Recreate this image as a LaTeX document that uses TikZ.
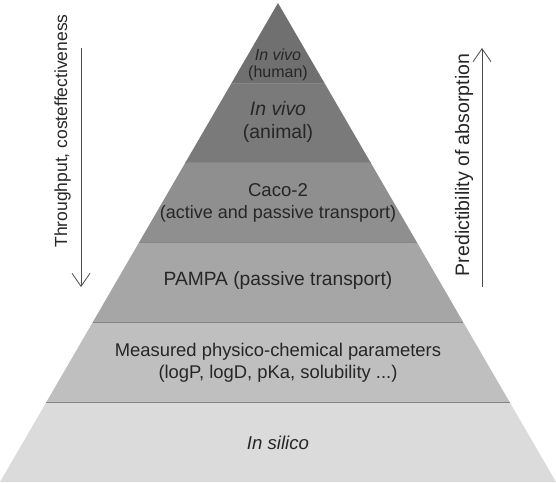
\documentclass[tikz,border=0pt]{standalone}
\usepackage{fontspec}
\setmainfont{Liberation Sans}
\usetikzlibrary{arrows.meta}

\begin{document}
\begin{tikzpicture}[x=1pt,y=-1pt,
  lbl/.style={text=black!85,align=center,font=\fontsize{18.6}{22}\selectfont},
  side/.style={draw=black!70,line width=0.8pt,-{Straight Barb[length=13pt,width=18pt]}}]
\useasboundingbox (0,0) rectangle (556,482);
% bands of the pyramid, top to bottom
\foreach \i/\g in {0/56,1/52,2/44,3/35,4/25,5/14}{\pgfmathsetmacro{\ya}{3+\i*479/6}\pgfmathsetmacro{\yb}{3+(\i+1)*479/6}\pgfmathsetmacro{\wa}{(\ya-3)*0.5804}\pgfmathsetmacro{\wb}{(\yb-3)*0.5804}\fill[black!\g] (278-\wa,\ya)--(278+\wa,\ya)--(278+\wb,\yb)--(278-\wb,\yb)--cycle;}
\foreach \i in {1,...,5}{\pgfmathsetmacro{\ya}{3+\i*479/6}\pgfmathsetmacro{\wa}{(\ya-3)*0.5804}\draw[black!48,line width=0.6pt] (278-\wa,\ya)--(278+\wa,\ya);}
\node[lbl,font=\fontsize{16}{16.5}\selectfont] (human) at (278,65) {\textit{In vivo}\\(human)};
\node[lbl,font=\fontsize{19.4}{22.5}\selectfont] (animal) at (278,122) {\textit{In vivo}\\(animal)};
\node[lbl] (caco) at (278,203) {Caco-2\\{\fontsize{18}{22}\selectfont(active and passive transport)}};
\node[lbl,font=\fontsize{19.2}{22}\selectfont] (pampa) at (278,281) {PAMPA (passive transport)};
\node[lbl,font=\fontsize{18.4}{22}\selectfont] (phys) at (278,363) {Measured physico-chemical parameters\\(logP, logD, pKa, solubility ...)};
\node[lbl] (silico) at (278,443) {\textit{In silico}};
% side arrows
\node[lbl,font=\fontsize{17.5}{20}\selectfont,rotate=90] (thru) at (62.5,131) {Throughput, costeffectiveness};
\node[lbl,font=\fontsize{19.5}{22}\selectfont,rotate=90] (pred) at (464,165) {Predictibility of absorption};
\coordinate (thruA) at (81,48);\coordinate (thruB) at (81,287);
\coordinate (predA) at (482,287);\coordinate (predB) at (482,48);
\draw[side] (thruA) -- (thruB);
\draw[side] (predA) -- (predB);
\end{tikzpicture}
\end{document}
